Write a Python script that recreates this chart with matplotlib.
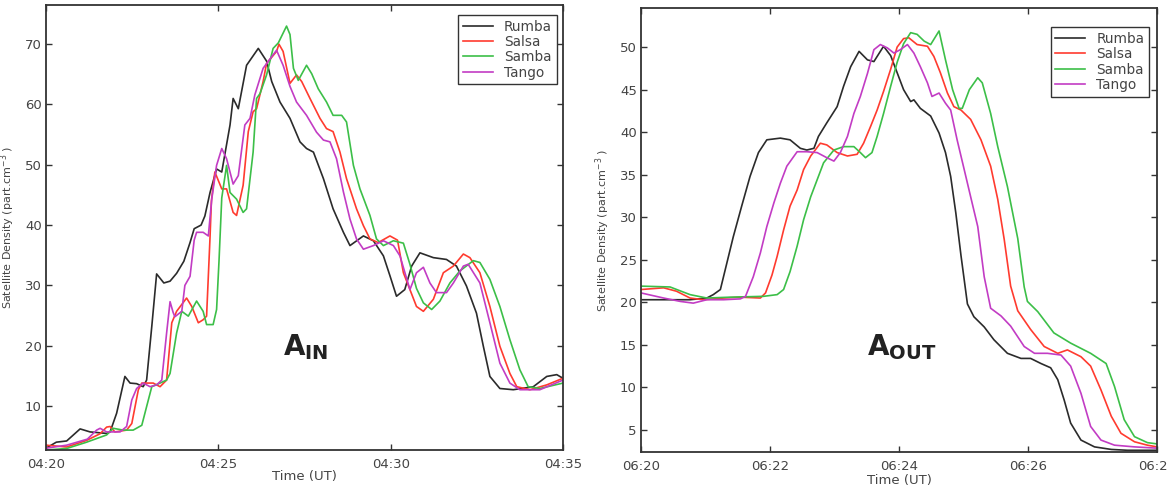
import numpy as np
import matplotlib.pyplot as plt

plt.rcParams['font.family'] = 'DejaVu Sans'
plt.rcParams['mathtext.fontset'] = 'dejavusans'

# ---- data: minutes after start time, density (part/cm3) ----
series_names = ["Rumba", "Salsa", "Samba", "Tango"]
series_colors = ["#2b2b2b", "#ff3b2f", "#3cbf48", "#c23cc4"]

# panel A_IN, start 04:20
in_rumba_t = [0.0, 0.3, 0.6, 0.99, 1.28, 1.76, 1.86, 2.05, 2.29, 2.44, 2.63, 2.82, 2.92, 3.07, 3.21,
              3.42, 3.60, 3.79, 4.0, 4.18, 4.30, 4.50, 4.61, 4.76, 4.95, 5.10, 5.34, 5.43, 5.58, 5.82,
              6.16, 6.40, 6.55, 6.79, 7.08, 7.37, 7.56, 7.76, 8.05, 8.33, 8.63, 8.82, 9.21, 9.50, 9.79,
              9.98, 10.17, 10.41, 10.61, 10.85, 11.24, 11.62, 11.91, 12.20, 12.49, 12.69, 12.88, 13.17,
              13.56, 14.14, 14.53, 14.82, 15.0]
in_rumba_v = [3.0, 4.0, 4.2, 6.2, 5.7, 5.45, 5.7, 8.8, 14.9, 13.8, 13.7, 13.2, 14.3, 23.2, 31.9,
              30.4, 30.7, 32.0, 34.0, 37.1, 39.4, 40.0, 41.5, 45.4, 49.3, 48.8, 56.6, 61.0, 59.3, 66.5,
              69.3, 67.2, 63.8, 60.4, 57.7, 53.8, 52.7, 52.1, 47.7, 42.7, 38.8, 36.6, 38.2, 37.4, 34.9,
              31.6, 28.2, 29.3, 33.2, 35.4, 34.6, 34.3, 33.2, 29.9, 25.4, 19.9, 14.9, 12.9,
              12.7, 13.2, 14.9, 15.2, 14.6]

in_salsa_t = [0.0, 0.6, 1.18, 1.57, 1.76, 1.86, 2.0, 2.34, 2.49, 2.68, 2.78, 3.11, 3.31, 3.50, 3.65,
              3.79, 4.08, 4.23, 4.42, 4.56, 4.66, 4.76, 4.80, 4.90, 5.10, 5.24, 5.43, 5.53, 5.72, 5.87,
              6.01, 6.11, 6.30, 6.40, 6.69, 6.76, 6.88, 7.08, 7.27, 7.42, 7.66, 7.95, 8.14, 8.33, 8.53,
              8.72, 9.01, 9.21, 9.40, 9.64, 9.98, 10.2, 10.37, 10.75, 10.95, 11.24, 11.53, 11.82, 12.11,
              12.30, 12.59, 12.88, 13.17, 13.46, 13.66, 14.04, 14.53, 15.0]
in_salsa_v = [3.5, 3.2, 4.3, 5.4, 6.5, 6.6, 5.7, 6.0, 7.1, 12.7, 13.8, 13.8, 13.2, 14.3, 23.8,
              25.7, 27.9, 26.5, 23.8, 24.3, 24.9, 38.0, 44.0, 48.8, 46.0, 46.0, 42.1, 41.6, 46.6, 55.5,
              58.8, 59.3, 63.8, 66.8, 68.8, 70.0, 68.8, 63.5, 64.9, 63.8, 61.0, 57.7, 56.0, 55.5, 52.1,
              47.7, 42.7, 39.9, 37.7, 37.1, 38.2, 37.5, 32.1, 26.5, 25.7, 27.7, 32.1, 33.2, 35.2,
              34.6, 32.1, 26.5, 19.9, 15.4, 13.2, 12.7, 13.5, 14.6]

in_samba_t = [0.0, 0.6, 1.18, 1.76, 1.95, 2.24, 2.53, 2.78, 2.92, 3.07, 3.31, 3.50, 3.60, 3.79, 3.94,
              4.13, 4.37, 4.56, 4.66, 4.85, 4.95, 5.02, 5.10, 5.24, 5.34, 5.53, 5.72, 5.82, 6.01, 6.11,
              6.21, 6.40, 6.59, 6.74, 6.98, 7.08, 7.18, 7.32, 7.56, 7.71, 7.90, 8.14, 8.33, 8.58, 8.72,
              8.92, 9.11, 9.40, 9.59, 9.79, 10.08, 10.37, 10.56, 10.75, 10.95, 11.19, 11.43, 11.72,
              12.01, 12.40, 12.59, 12.88, 13.17, 13.46, 13.75, 13.99, 14.33, 15.0]
in_samba_v = [2.7, 2.95, 4.0, 5.2, 6.3, 6.0, 6.0, 6.8, 9.9, 13.2, 13.8, 14.3, 15.4, 22.1, 25.7,
              24.9, 27.4, 25.7, 23.5, 23.5, 26.0, 34.0, 44.5, 49.9, 45.4, 44.3, 42.1, 42.7, 52.1, 61.0,
              61.8, 64.9, 69.3, 70.2, 73.0, 71.6, 66.0, 64.0, 66.5, 65.1, 62.6, 60.4, 58.2, 58.2, 57.1,
              49.9, 46.0, 41.6, 37.7, 36.6, 37.4, 37.0, 33.5, 29.5, 27.1, 26.0, 27.4, 30.4,
              32.4, 34.1, 33.8, 31.0, 26.5, 21.0, 16.0, 13.2, 12.9, 13.8]

in_tango_t = [0.0, 0.6, 1.2, 1.47, 1.57, 1.76, 2.15, 2.34, 2.49, 2.63, 2.82, 3.02, 3.21, 3.36, 3.50,
              3.60, 3.69, 3.74, 3.94, 4.03, 4.18, 4.30, 4.37, 4.56, 4.71, 4.81, 4.95, 5.10, 5.24, 5.43,
              5.58, 5.77, 5.92, 6.06, 6.30, 6.69, 6.88, 7.08, 7.27, 7.56, 7.85, 8.05, 8.24, 8.43, 8.63,
              8.82, 9.01, 9.21, 9.50, 9.79, 10.08, 10.27, 10.56, 10.75, 10.95, 11.14, 11.33, 11.62,
              11.82, 12.11, 12.25, 12.59, 12.88, 13.17, 13.46, 13.75, 14.33, 15.0]
in_tango_v = [3.0, 3.5, 4.5, 6.0, 6.3, 5.7, 5.7, 6.6, 11.0, 12.9, 13.8, 13.2, 13.5, 14.3, 22.1,
              27.3, 25.5, 24.8, 25.7, 30.0, 31.5, 37.5, 38.8, 38.8, 38.2, 44.3, 49.9, 52.7, 51.0, 46.8,
              48.2, 56.6, 57.7, 61.6, 66.0, 69.0, 66.5, 63.0, 60.4, 58.2, 55.4, 54.1, 53.8, 51.0, 45.5,
              41.0, 37.7, 36.0, 36.6, 37.4, 36.6, 34.9, 29.3, 32.1, 33.0, 30.4, 28.8, 28.8,
              30.4, 33.2, 33.5, 30.4, 23.8, 17.1, 13.8, 12.7, 12.7, 14.3]

# panel A_OUT, start 06:20
out_rumba_t = [0.0, 0.35, 0.76, 1.02, 1.12, 1.23, 1.33, 1.43, 1.56, 1.69, 1.82, 1.95, 2.16, 2.31, 2.47,
               2.57, 2.68, 2.75, 2.88, 3.04, 3.14, 3.25, 3.38, 3.51, 3.61, 3.76, 3.87, 3.97, 4.07, 4.18,
               4.23, 4.33, 4.49, 4.62, 4.72, 4.80, 4.88, 4.96, 5.06, 5.16, 5.32, 5.47, 5.68, 5.89, 6.04,
               6.20, 6.35, 6.46, 6.56, 6.66, 6.82, 7.03, 7.29, 7.54, 8.0]
out_rumba_v = [20.3, 20.3, 20.3, 20.5, 20.9, 21.5, 24.6, 27.7, 31.3, 34.8, 37.6, 39.1, 39.3, 39.1, 38.1,
               37.9, 38.1, 39.5, 41.1, 43.0, 45.4, 47.7, 49.5, 48.5, 48.3, 50.1, 49.0, 47.0, 45.0, 43.6,
               43.8, 42.8, 41.9, 39.9, 37.6, 34.8, 30.5, 25.5, 19.8, 18.3, 17.1, 15.6, 14.0, 13.4, 13.4,
               12.8, 12.3, 10.9, 8.5, 5.8, 3.8, 3.0, 2.7, 2.6, 2.6]

out_salsa_t = [0.0, 0.35, 0.55, 0.76, 0.97, 1.28, 1.54, 1.85, 1.93, 2.03, 2.11, 2.21, 2.31, 2.42, 2.52,
               2.63, 2.78, 2.88, 3.04, 3.20, 3.35, 3.45, 3.56, 3.66, 3.76, 3.87, 3.97, 4.07, 4.15, 4.28,
               4.44, 4.54, 4.64, 4.75, 4.85, 4.96, 5.11, 5.27, 5.42, 5.53, 5.63, 5.73, 5.84, 6.04, 6.25,
               6.46, 6.61, 6.82, 6.97, 7.13, 7.29, 7.44, 7.65, 7.85, 8.0]
out_salsa_v = [21.5, 21.7, 21.3, 20.5, 20.3, 20.5, 20.6, 20.5, 21.1, 23.2, 25.4, 28.5, 31.3, 33.2, 35.6,
               37.2, 38.7, 38.5, 37.6, 37.2, 37.4, 38.7, 40.7, 42.6, 44.8, 47.4, 50.0, 51.0, 51.1, 50.3,
               50.1, 48.9, 47.0, 44.6, 43.0, 42.6, 41.5, 39.1, 36.0, 32.1, 27.4, 21.9, 19.0, 16.8, 14.8,
               14.0, 14.4, 13.6, 12.5, 9.7, 6.6, 4.6, 3.6, 3.2, 3.0]

out_samba_t = [0.0, 0.45, 0.76, 1.02, 1.38, 1.90, 2.11, 2.21, 2.31, 2.42, 2.52, 2.63, 2.73, 2.83, 2.99,
               3.14, 3.30, 3.40, 3.48, 3.58, 3.66, 3.76, 3.87, 3.97, 4.07, 4.18, 4.28, 4.39, 4.49, 4.62,
               4.72, 4.83, 4.93, 4.98, 5.09, 5.22, 5.29, 5.42, 5.53, 5.68, 5.84, 5.94, 5.99, 6.15, 6.40,
               6.66, 6.97, 7.21, 7.34, 7.49, 7.65, 7.85, 8.0]
out_samba_v = [21.9, 21.8, 20.9, 20.5, 20.6, 20.7, 20.9, 21.5, 23.6, 26.6, 29.7, 32.4, 34.4, 36.4, 37.9,
               38.3, 38.3, 37.6, 37.0, 37.6, 39.5, 42.2, 45.4, 48.2, 50.4, 51.7, 51.5, 50.7, 50.3, 51.9,
               48.5, 45.0, 42.8, 42.8, 45.0, 46.4, 45.8, 42.2, 38.3, 33.6, 27.5, 21.8, 20.1, 18.9, 16.4,
               15.2, 14.0, 12.8, 10.1, 6.2, 4.2, 3.5, 3.35]

out_tango_t = [0.0, 0.35, 0.61, 0.81, 1.02, 1.28, 1.54, 1.62, 1.74, 1.85, 1.95, 2.06, 2.16, 2.26, 2.42,
               2.57, 2.73, 2.88, 2.99, 3.09, 3.20, 3.30, 3.40, 3.51, 3.61, 3.71, 3.82, 3.92, 4.02, 4.13,
               4.23, 4.33, 4.44, 4.51, 4.62, 4.72, 4.80, 4.90, 5.01, 5.11, 5.22, 5.32, 5.42, 5.58, 5.73,
               5.94, 6.10, 6.30, 6.51, 6.66, 6.82, 6.97, 7.13, 7.34, 7.65, 8.0]
out_tango_v = [21.1, 20.5, 20.1, 19.9, 20.3, 20.3, 20.4, 20.7, 23.0, 25.8, 28.9, 31.7, 34.0, 36.0, 37.7,
               37.7, 37.6, 37.0, 36.6, 37.6, 39.5, 42.2, 44.2, 46.9, 49.7, 50.3, 49.9, 49.3, 49.7, 50.3,
               49.3, 47.7, 45.8, 44.2, 44.6, 43.4, 42.6, 39.1, 35.6, 32.4, 28.9, 23.0, 19.3, 18.4, 17.2,
               14.8, 14.0, 14.0, 13.8, 12.5, 9.3, 5.4, 3.8, 3.2, 3.0, 2.85]

in_ticks = [0, 5, 10, 15]
in_ticklabels = ["04:20", "04:25", "04:30", "04:35"]
out_ticks = [0, 2, 4, 6, 8]
out_ticklabels = ["06:20", "06:22", "06:24", "06:26", "06:28"]

# ---- figure ----
fig = plt.figure(figsize=(11.67, 4.93), dpi=100)
ax1 = fig.add_axes([0.0394, 0.0872, 0.4430, 0.9027])
ax2 = fig.add_axes([0.5493, 0.0832, 0.4422, 0.9006])

in_data = [(in_rumba_t, in_rumba_v), (in_salsa_t, in_salsa_v),
           (in_samba_t, in_samba_v), (in_tango_t, in_tango_v)]
out_data = [(out_rumba_t, out_rumba_v), (out_salsa_t, out_salsa_v),
            (out_samba_t, out_samba_v), (out_tango_t, out_tango_v)]

for ax, data in [(ax1, in_data), (ax2, out_data)]:
    for (t, v), name, col in zip(data, series_names, series_colors):
        ax.plot(t, v, color=col, lw=1.2, label=name)

ax1.set_xlim(0, 15)
ax1.set_ylim(2.7, 76.5)
ax1.set_xticks(in_ticks)
ax1.set_xticklabels(in_ticklabels)
ax1.set_yticks(np.arange(10, 71, 10))

ax2.set_xlim(0, 8)
ax2.set_ylim(2.4, 54.6)
ax2.set_xticks(out_ticks)
ax2.set_xticklabels(out_ticklabels)
ax2.set_yticks(np.arange(5, 51, 5))

for ax in (ax1, ax2):
    ax.tick_params(direction='in', top=True, right=True, length=4, width=1,
                   labelsize=9.5, colors='#333333', labelcolor='#444444')
    ax.tick_params(axis='x', pad=6)
    ax.tick_params(axis='y', pad=3)
    for sp in ax.spines.values():
        sp.set_color('#333333')
        sp.set_linewidth(1.3)
    ax.set_xlabel("Time (UT)", fontsize=9.5, color='#444444')
    ax.set_ylabel("Satellite Density (part.cm$^{-3}$ )", fontsize=8, color='#444444')
    ax.yaxis.set_label_coords(-0.056, 0.5)

ax1.xaxis.set_label_coords(0.5, -0.045)
ax2.xaxis.set_label_coords(0.5, -0.05)

leg_kw = dict(loc='upper right', borderaxespad=0, fontsize=9.8, fancybox=False,
              framealpha=1, edgecolor='#333333', handlelength=2.2, labelspacing=0.1,
              borderpad=0.35, handletextpad=0.8)
leg1 = ax1.legend(bbox_to_anchor=(0.988, 0.978), **leg_kw)
leg2 = ax2.legend(bbox_to_anchor=(0.9845, 0.957), **leg_kw)
for leg in (leg1, leg2):
    leg.get_frame().set_linewidth(1.0)
    for txt in leg.get_texts():
        txt.set_color('#444444')

ax1.text(6.88, 18.5, r"$\mathbf{A}_{\mathbf{IN}}$", fontsize=20, color='#222222',
         ha='left', va='baseline')
ax2.text(3.51, 13.8, r"$\mathbf{A}_{\mathbf{OUT}}$", fontsize=20, color='#222222',
         ha='left', va='baseline')

fig.savefig("out.png", dpi=100)
